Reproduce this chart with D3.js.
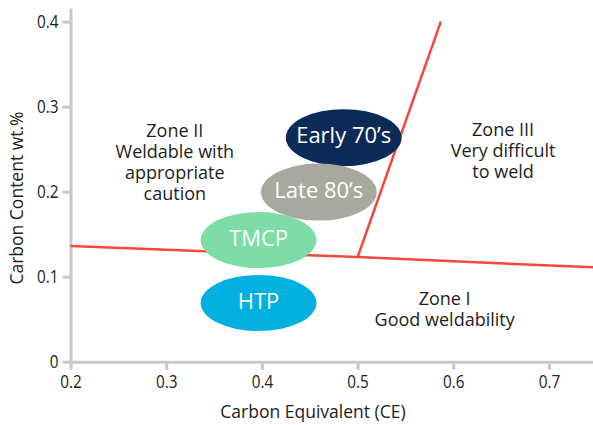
<!DOCTYPE html>
<html>
<head>
<meta charset="utf-8">
<script src="https://cdn.jsdelivr.net/npm/d3@7"></script>
<style>
  body { margin: 0; background: #fff; }
  svg { display: block; font-family: 'Open Sans', sans-serif; }
  .axis path, .axis line { stroke: #c8c8c8; stroke-width: 3; }
  .axis text { font-size: 18px; fill: #222; font-family: 'Open Sans', sans-serif; }
</style>
</head>
<body>
<div id="chart"></div>
<script>
// Ejes
const xTicks = [0.2, 0.3, 0.4, 0.5, 0.6, 0.7];
const yTicks = [0, 0.1, 0.2, 0.3, 0.4];

// Limites entre zonas (CE, C)
const lowerCE = [0.2, 0.50, 0.746];
const lowerC = [0.136, 0.123, 0.111];
const upperCE = [0.50, 0.587];
const upperC = [0.123, 0.40];

// Elipses por tipo de acero
const steels = ['Early 70’s', 'Late 80’s', 'TMCP', 'HTP'];
const ceMin = [0.425, 0.399, 0.336, 0.336];
const ceMax = [0.546, 0.520, 0.457, 0.457];
const cMin = [0.230, 0.166, 0.110, 0.036];
const cMax = [0.297, 0.233, 0.176, 0.102];
const steelColors = ['#0b2a58', '#a7a99f', '#7edca6', '#00b0e0'];

// Textos de zona
const zoneLines = [
    ['Zone II', 'Weldable with', 'appropriate', 'caution'],
    ['Zone III', 'Very difficult', 'to weld'],
    ['Zone I', 'Good weldability']
];
const zoneCE = [0.309, 0.652, 0.591];
const zoneC = [0.264, 0.265, 0.067];

let width = 593, height = 425;

let svg = d3.select('#chart')
    .append('svg')
    .attr('width', width)
    .attr('height', height);

let x = d3.scaleLinear()
    .domain([0.2, 0.746])
    .range([70.5, 593]);

let y = d3.scaleLinear()
    .domain([0, 0.416])
    .range([361.7, 8]);

//Eje X
let xAxis = svg.append('g')
    .attr('class', 'axis')
    .attr('transform', 'translate(0,' + y(0) + ')')
    .call(d3.axisBottom(x).tickValues(xTicks).tickSize(8).tickSizeOuter(0).tickPadding(6)
        .tickFormat(d3.format('.1f')));
xAxis.selectAll('text').attr('transform', 'scale(0.85,1)');

//Eje Y
let yAxis = svg.append('g')
    .attr('class', 'axis')
    .attr('transform', 'translate(' + x(0.2) + ',0)')
    .call(d3.axisLeft(y).tickValues(yTicks).tickSize(8).tickSizeOuter(0).tickPadding(6)
        .tickFormat(function(d) { return d == 0 ? '0' : d3.format('.1f')(d); }));
yAxis.selectAll('text').attr('transform', 'scale(0.85,1)');

//Titulos
svg.append('text')
    .attr('x', 313)
    .attr('y', 418)
    .attr('text-anchor', 'middle')
    .style('font-size', '17.5px')
    .style('fill', '#222')
    .text('Carbon Equivalent (CE)');

svg.append('text')
    .attr('transform', 'translate(23,198) rotate(-90)')
    .attr('text-anchor', 'middle')
    .style('font-size', '17.5px')
    .style('fill', '#222')
    .text('Carbon Content wt.%');

//Lineas de zona
let line = d3.line()
    .x(function(d) { return x(d[0]); })
    .y(function(d) { return y(d[1]); });

svg.append('path')
    .datum(lowerCE.map(function(d, i) { return [d, lowerC[i]]; }))
    .attr('d', line)
    .attr('fill', 'none')
    .attr('stroke', '#f5473b')
    .attr('stroke-width', 2.5);

svg.append('path')
    .datum(upperCE.map(function(d, i) { return [d, upperC[i]]; }))
    .attr('d', line)
    .attr('fill', 'none')
    .attr('stroke', '#f5473b')
    .attr('stroke-width', 2.5);

//Elipses
let groups = svg.selectAll('.steel')
    .data(steels)
    .enter()
    .append('g')
    .attr('class', 'steel');

groups.append('ellipse')
    .attr('cx', function(d, i) { return x((ceMin[i] + ceMax[i]) / 2); })
    .attr('cy', function(d, i) { return y((cMin[i] + cMax[i]) / 2); })
    .attr('rx', function(d, i) { return (x(ceMax[i]) - x(ceMin[i])) / 2; })
    .attr('ry', function(d, i) { return (y(cMin[i]) - y(cMax[i])) / 2; })
    .attr('fill', function(d, i) { return steelColors[i]; });

groups.append('text')
    .attr('x', function(d, i) { return x((ceMin[i] + ceMax[i]) / 2); })
    .attr('y', function(d, i) { return y((cMin[i] + cMax[i]) / 2) - 2; })
    .attr('dy', '0.35em')
    .attr('text-anchor', 'middle')
    .style('font-size', '22px')
    .style('fill', '#fff')
    .text(function(d) { return d; });

//Textos de zona
zoneLines.forEach(function(lines, i) {
    let t = svg.append('text')
        .attr('text-anchor', 'middle')
        .style('font-size', '18px')
        .style('fill', '#1e1e1e');
    lines.forEach(function(l, j) {
        t.append('tspan')
            .attr('x', x(zoneCE[i]))
            .attr('y', y(zoneC[i]) + j * 21)
            .text(l);
    });
});
</script>
</body>
</html>
